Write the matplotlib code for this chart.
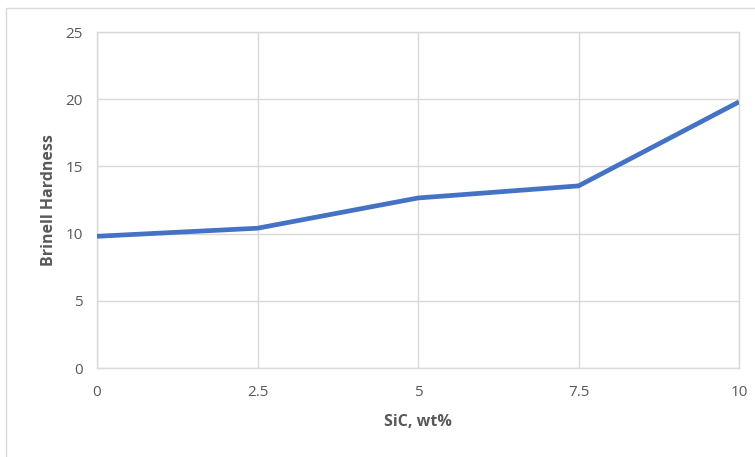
import matplotlib
matplotlib.use("Agg")
import matplotlib.pyplot as plt
from matplotlib.patches import Rectangle

sic_wt = [0, 2.5, 5, 7.5, 10]
hardness = [9.8, 10.4, 12.65, 13.55, 19.8]
x_ticks = [0, 2.5, 5, 7.5, 10]
x_tick_labels = ["0", "2.5", "5", "7.5", "10"]
y_ticks = [0, 5, 10, 15, 20, 25]

plt.rcParams['font.family'] = ['Open Sans', 'DejaVu Sans']
W, H = 755, 457
fig = plt.figure(figsize=(W/100, H/100), dpi=100)
fig.patch.set_facecolor('white')

# chart frame
fig.add_artist(Rectangle((6/W, -0.2), 1.5, 1.2 - 8/H, transform=fig.transFigure,
                         fill=False, edgecolor='#d9d9d9', linewidth=1.0))

ax = fig.add_axes([97/W, (H-368)/H, (739-97)/W, (368-32)/H])
ax.plot(sic_wt, hardness, color='#4472C4', linewidth=3.4, solid_capstyle='butt',
        solid_joinstyle='miter', zorder=3)
ax.set_xlim(0, 10)
ax.set_ylim(0, 25)
ax.set_xticks(x_ticks)
ax.set_xticklabels(x_tick_labels)
ax.set_yticks(y_ticks)
ax.grid(True, color='#d9d9d9', linewidth=1.0)
ax.set_axisbelow(True)
for s in ax.spines.values():
    s.set_color('#d9d9d9')
    s.set_linewidth(1.0)
ax.tick_params(length=0, colors='#595959', labelsize=11)
ax.tick_params(axis='x', pad=12)
ax.tick_params(axis='y', pad=10)
ax.set_xlabel('SiC, wt%', fontsize=11.5, fontweight='bold', color='#595959', labelpad=10)
ax.set_ylabel('Brinell Hardness', fontsize=11.5, fontweight='bold', color='#595959', labelpad=6)

fig.savefig('out.png', dpi=100)
